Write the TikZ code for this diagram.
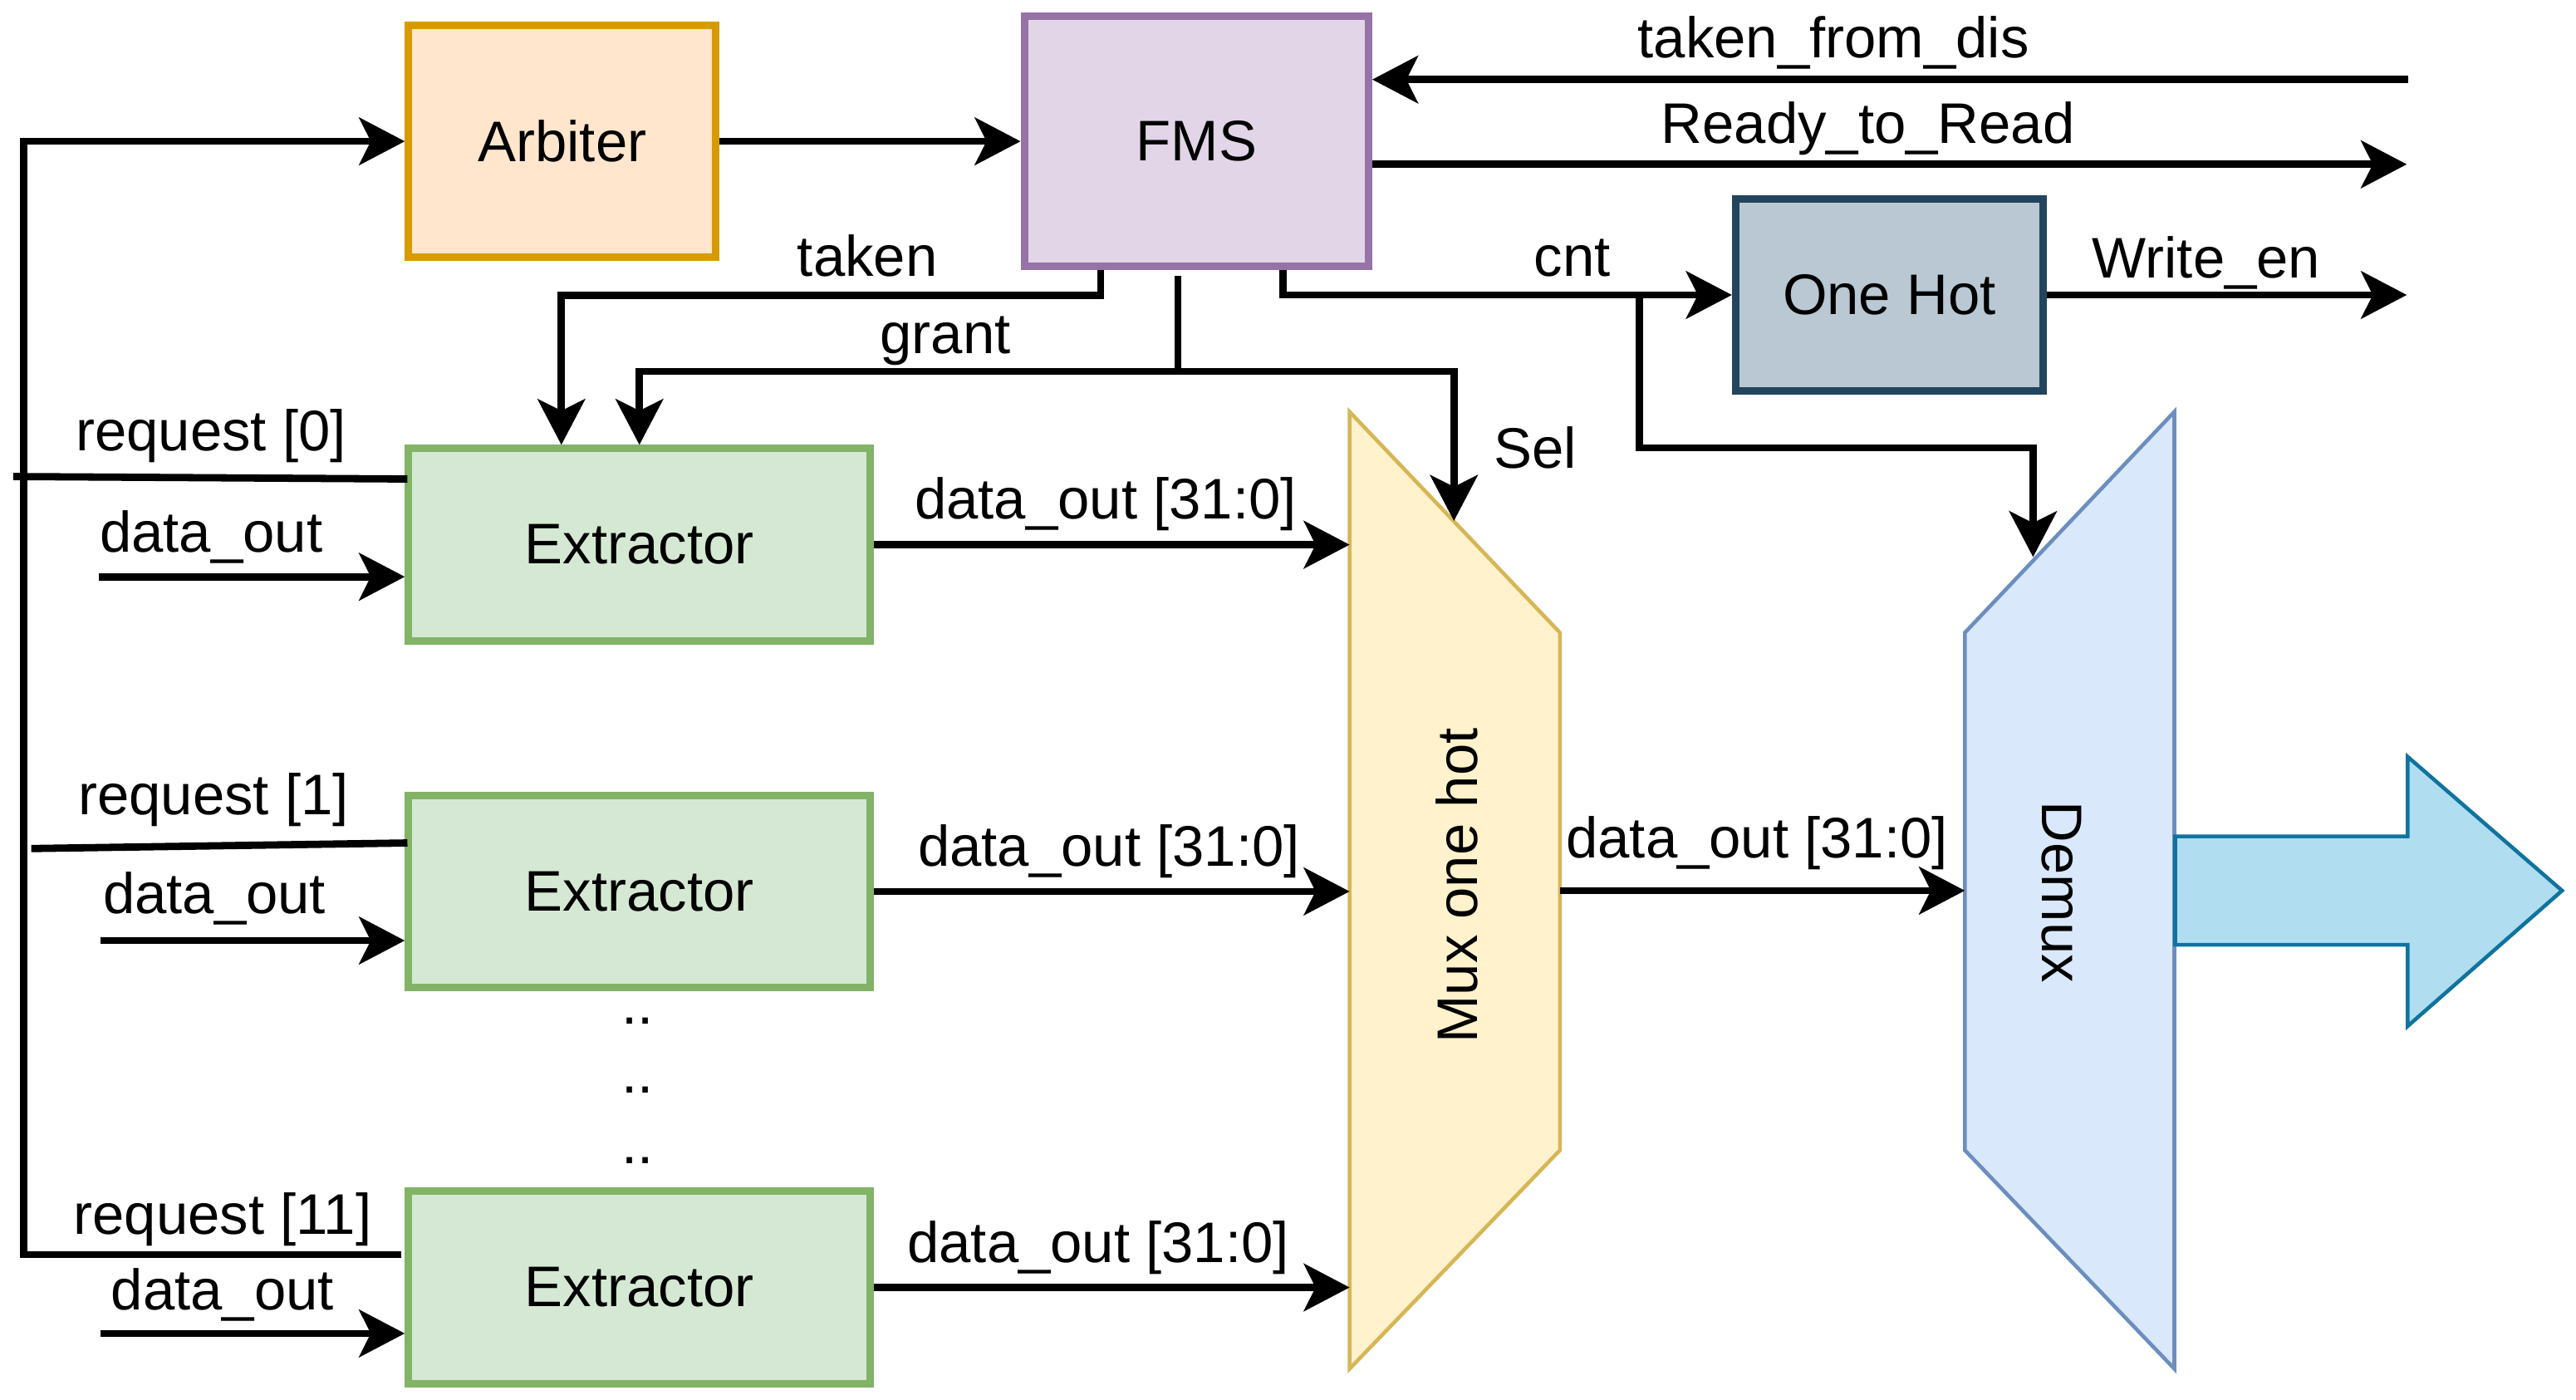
\documentclass[tikz,border=0pt]{standalone}
\usepackage{fontspec}
\setmainfont{Liberation Sans}
\usetikzlibrary{arrows.meta,calc}
\definecolor{arbF}{HTML}{FFE6CC}\definecolor{arbD}{HTML}{D79B00}
\definecolor{fmsF}{HTML}{E1D5E7}\definecolor{fmsD}{HTML}{9673A6}
\definecolor{ohF}{HTML}{BAC8D3}\definecolor{ohD}{HTML}{23445D}
\definecolor{extF}{HTML}{D5E8D4}\definecolor{extD}{HTML}{82B366}
\definecolor{muxF}{HTML}{FFF2CC}\definecolor{muxD}{HTML}{D6B656}
\definecolor{demF}{HTML}{DAE8FC}\definecolor{demD}{HTML}{6C8EBF}
\definecolor{bigF}{HTML}{B1DDF0}\definecolor{bigD}{HTML}{10739E}
\begin{document}
\begin{tikzpicture}[x=0.01978cm,y=-0.01978cm,
  every node/.style={font=\fontsize{19.6pt}{23pt}\selectfont, inner sep=0pt},
  box/.style={draw, line width=2.55pt, inner sep=0pt},
  extbox/.style={box, fill=extF, draw=extD, minimum width=5.558cm, minimum height=2.314cm},
  wire/.style={line width=2.5pt},
  arr/.style={wire, -{Stealth[length=0.55cm,width=0.57cm,inset=0.14cm]}},
  lbl/.style={anchor=base},
  shp/.style={line width=1.3pt}]
\useasboundingbox (0,0) rectangle (1568,852);

% shapes
\draw[shp, fill=muxF, draw=muxD] (821.5,250.6) -- (949.5,385) -- (949.5,700) -- (821.5,833) -- cycle;
\draw[shp, fill=demF, draw=demD] (1196,385) -- (1323.5,250.6) -- (1323.5,833) -- (1196,700) -- cycle;
\draw[shp, fill=bigF, draw=bigD] (1324,509) -- (1465.5,509) -- (1465.5,460.5) -- (1559.5,542) -- (1465.5,624.5) -- (1465.5,575) -- (1324,575) -- cycle;
\node[rotate=90] (mux) at (887,539) {Mux one hot};
\node[rotate=-90] (demux) at (1255,543) {Demux};

% boxes
\node[box, fill=arbF, draw=arbD, minimum width=3.70cm, minimum height=2.785cm] (arb) at (342.25,86) {Arbiter};
\node[box, fill=fmsF, draw=fmsD, minimum width=4.144cm, minimum height=3.007cm] (fms) at (728.25,86) {FMS};
\node[box, fill=ohF, draw=ohD, minimum width=3.70cm, minimum height=2.314cm] (oh) at (1150,179.5) {One Hot};
\node[extbox] (ext1) at (389.2,331.5) {Extractor};
\node[extbox] (ext2) at (389.2,542.5) {Extractor};
\node[extbox] (ext3) at (389.2,783.5) {Extractor};

% coordinates
\coordinate (muxL) at (821.5,0);
\coordinate (muxR) at (949.5,542);
\coordinate (demL) at (1196,542);
\coordinate (muxS) at (885,317);
\coordinate (demS) at (1237.5,339);
\coordinate (r11) at (244,763.5);
\coordinate (busB) at (14.5,763.5);
\coordinate (rq0a) at (8,290);   \coordinate (rq0b) at (248,291.5);
\coordinate (rq1a) at (19,516.4); \coordinate (rq1b) at (248,513);
\coordinate (din1) at (60,351);
\coordinate (din2) at (61,572.4);
\coordinate (din3) at (61,811.5);
\coordinate (tfd) at (1465.6,48.4);
\coordinate (rtr) at (1465,100);
\coordinate (wen) at (1465,179.5);
\coordinate (cnt0) at ($(fms.south)+(52.75,0)$);
\coordinate (cntb) at (998,179.5);
\coordinate (cntc) at (1237.5,272.5);
\coordinate (tk0) at ($(fms.south)+(-58.25,0)$);
\coordinate (tk1) at (341.7,179.6);
\coordinate (g0) at (717,168);
\coordinate (g1) at (717,226);

% connectors
\draw[arr] (r11) -- (busB) |- (arb.west);
\draw[wire] (rq0a) -- (rq0b);
\draw[wire] (rq1a) -- (rq1b);
\draw[arr] (din1) -- (din1 -| ext1.west);
\draw[arr] (din2) -- (din2 -| ext2.west);
\draw[arr] (din3) -- (din3 -| ext3.west);
\draw[arr] (ext1.east) -- (ext1.east -| muxL);
\draw[arr] (ext2.east) -- (ext2.east -| muxL);
\draw[arr] (ext3.east) -- (ext3.east -| muxL);
\draw[arr] (muxR) -- (demL);
\draw[arr] (arb.east) -- (fms.west);
\draw[arr] (tfd) -- (tfd -| fms.east);
\draw[arr] (rtr -| fms.east) -- (rtr);
\draw[arr] (oh.east) -- (wen);
\draw[arr] (cnt0) |- (oh.west);
\draw[arr] (cntb) |- (cntc) -- (demS);
\draw[arr] (tk0) |- (tk1) -- (tk1 |- ext1.north);
\draw[wire] (g0) -- (g1);
\draw[arr] (g1) -| (ext1.north);
\draw[arr] (g1) -| (muxS);

% labels
\node[lbl] (l1) at (1116,35) {taken\_from\_dis};
\node[lbl] (l2) at (1137,87) {Ready\_to\_Read};
\node[lbl] (l3) at (1343,169) {Write\_en};
\node[lbl] (l4) at (957,168) {cnt};
\node[lbl] (l5) at (528,168) {taken};
\node[lbl] (l6) at (575.5,215) {grant};
\node[lbl] (l7) at (934.5,285) {Sel};
\node[lbl] (l8) at (128.5,274.5) {request [0]};
\node[lbl] (l9) at (128.5,336) {data\_out};
\node[lbl] (l10) at (130,495.6) {request [1]};
\node[lbl] (l11) at (130.5,556) {data\_out};
\node[lbl] (l12) at (135.5,751) {request [11]};
\node[lbl] (l13) at (135.5,797) {data\_out};
\node[lbl] (l14) at (673,316) {data\_out [31:0]};
\node[lbl] (l15) at (675,527) {data\_out [31:0]};
\node[lbl] (l16) at (668.5,768.5) {data\_out [31:0]};
\node[lbl] (l17) at (1069.5,522) {data\_out [31:0]};
\node[lbl] (d1) at (388,623) {..};
\node[lbl] (d2) at (388,665) {..};
\node[lbl] (d3) at (388,708) {..};
\end{tikzpicture}
\end{document}
